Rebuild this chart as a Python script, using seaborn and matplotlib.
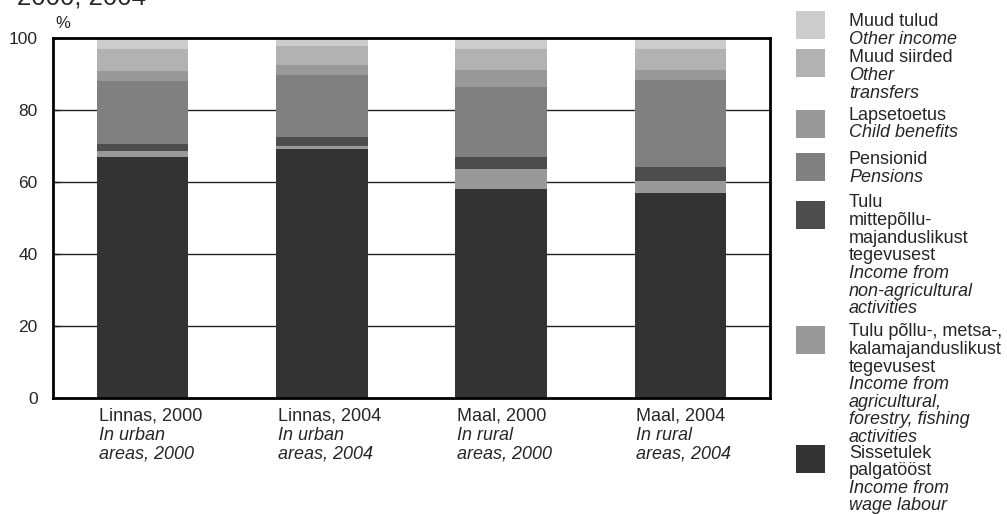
import matplotlib
matplotlib.use("Agg")
import matplotlib.pyplot as plt
import matplotlib.transforms as mtransforms
from matplotlib.patches import Rectangle
import numpy as np
import pandas as pd
import seaborn as sns

# ---------------- data ----------------
categories = ["Linnas, 2000", "Linnas, 2004", "Maal, 2000", "Maal, 2004"]
categories_en = [["In urban", "areas, 2000"], ["In urban", "areas, 2004"],
                 ["In rural", "areas, 2000"], ["In rural", "areas, 2004"]]

wage_labour = [66.9, 69.2, 58.1, 56.9]
agricultural = [1.7, 0.8, 5.5, 3.4]
non_agricultural = [2.0, 2.5, 3.3, 3.9]
pensions = [17.5, 17.2, 19.5, 24.1]
child_benefits = [2.7, 2.8, 4.7, 2.8]
other_transfers = [6.1, 5.4, 5.8, 5.8]
other_income = [3.1, 2.1, 3.1, 3.1]

series_names = ["wage", "agri", "nonagri", "pensions", "child", "transfers", "other"]
series_values = [wage_labour, agricultural, non_agricultural, pensions,
                 child_benefits, other_transfers, other_income]
series_colors = ["#333333", "#999999", "#4d4d4d", "#808080", "#999999", "#b2b2b2", "#cccccc"]

y_ticks = [0, 20, 40, 60, 80, 100]

# legend entries, top to bottom: (colour, [(text, italic), ...])
legend_entries = [
    ("#cccccc", [("Muud tulud", False), ("Other income", True)]),
    ("#b2b2b2", [("Muud siirded", False), ("Other", True), ("transfers", True)]),
    ("#999999", [("Lapsetoetus", False), ("Child benefits", True)]),
    ("#808080", [("Pensionid", False), ("Pensions", True)]),
    ("#4d4d4d", [("Tulu", False), ("mittepõllu-", False), ("majanduslikust", False),
                 ("tegevusest", False), ("Income from", True), ("non-agricultural", True),
                 ("activities", True)]),
    ("#999999", [("Tulu põllu-, metsa-,", False), ("kalamajanduslikust", False),
                 ("tegevusest", False), ("Income from", True), ("agricultural,", True),
                 ("forestry, fishing", True), ("activities", True)]),
    ("#333333", [("Sissetulek", False), ("palgatööst", False), ("Income from", True),
                 ("wage labour", True)]),
]

# ---------------- style ----------------
sns.set_style("white")
plt.rcParams["font.family"] = ["Liberation Sans", "DejaVu Sans"]

W, H = 1007, 514
fig = plt.figure(figsize=(W / 100, H / 100), dpi=100)
ax = fig.add_axes([53 / W, 1 - 398 / H, (770 - 53) / W, (398 - 38) / H])

# stacked bars via overlaid cumulative sums (top layer first)
vals = np.array(series_values)
cum = np.cumsum(vals, axis=0)
for k in range(len(series_names) - 1, -1, -1):
    df = pd.DataFrame({"cat": categories, "val": cum[k]})
    sns.barplot(data=df, x="cat", y="val", color=series_colors[k], width=0.51,
                saturation=1, ax=ax, edgecolor="none", linewidth=0, zorder=2)

ax.set_xlim(-0.5, len(categories) - 0.5)
ax.set_ylim(0, 100)
ax.set_yticks(y_ticks)
ax.set_yticklabels([str(t) for t in y_ticks], fontsize=12.5)
ax.set_xticks([])
ax.set_xlabel("")
ax.set_ylabel("")
for t in [20, 40, 60, 80]:
    ax.axhline(t, color="#222222", lw=1, zorder=1)
for s in ax.spines.values():
    s.set_visible(True)
    s.set_color("black")
    s.set_linewidth(2)
ax.tick_params(axis="y", direction="in", length=5, width=1, pad=11, left=True)

# x labels (left aligned at bar left edge)
trans = mtransforms.blended_transform_factory(ax.transData, fig.transFigure)
line_y = [416, 435, 454]
for i, cat in enumerate(categories):
    x0 = i - 0.255 + 0.01
    ax.text(x0, 1 - line_y[0] / H, cat, transform=trans, ha="left", va="center",
            fontsize=13)
    for j, line in enumerate(categories_en[i]):
        ax.text(x0, 1 - line_y[j + 1] / H, line, transform=trans, ha="left",
                va="center", fontsize=13, style="italic")

# % label and cut-off title (cut off at the top edge, as in the reference)
fig.text(55 / W, 1 - 23 / H, "%", fontsize=12, ha="left", va="center")
fig.text(17 / W, 1 - 5 / H, "2000, 2004", fontsize=18.5, ha="left", va="baseline")

# legend, drawn manually
patch_tops = [11, 49, 110, 153, 201, 326, 445]
first_line = [22, 58, 115, 160, 203, 332, 453]
line_step = 17.6
for (col, lines), pt, fl in zip(legend_entries, patch_tops, first_line):
    fig.patches.append(Rectangle((796 / W, 1 - (pt + 28) / H), 29 / W, 28 / H,
                                 transform=fig.transFigure, facecolor=col,
                                 edgecolor="none"))
    for j, (txt, it) in enumerate(lines):
        fig.text(849 / W, 1 - (fl + j * line_step) / H, txt, fontsize=13,
                 ha="left", va="center", style="italic" if it else "normal")

fig.savefig("out.png", dpi=100)
